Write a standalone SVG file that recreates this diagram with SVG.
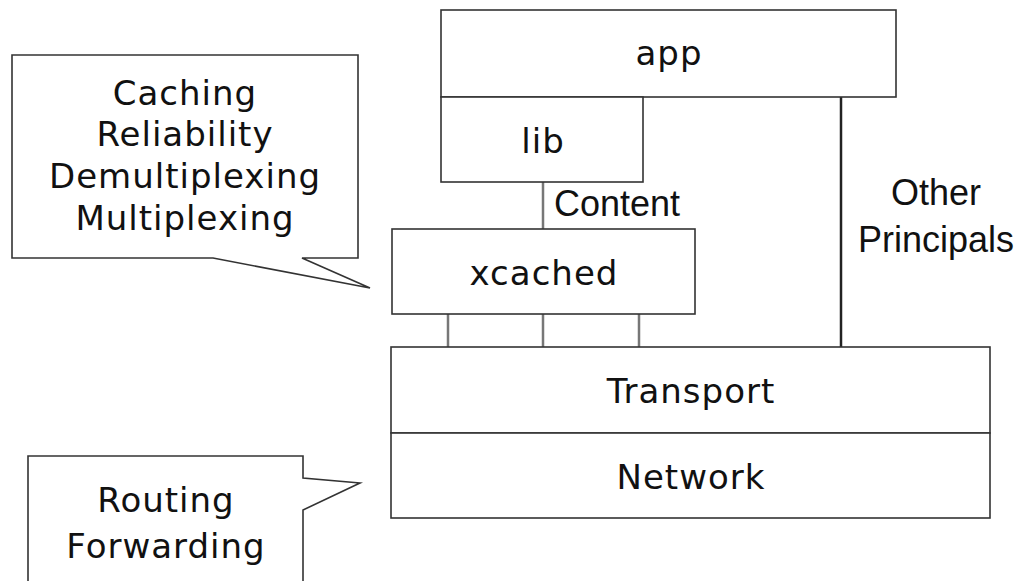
<svg xmlns="http://www.w3.org/2000/svg" width="1021" height="581" viewBox="0 0 1021 581">
<style>
.box{fill:#fff;stroke:#333;stroke-width:1.6}
.lbl{font-family:"DejaVu Sans",sans-serif;font-size:34px;letter-spacing:1px;fill:#111;text-anchor:middle}
.ann{font-family:"Liberation Sans",Arial,sans-serif;font-size:36px;fill:#111}
.gl{stroke:#777;stroke-width:2.5;fill:none}
.bl{stroke:#222;stroke-width:2.5;fill:none}
</style>
<rect width="1021" height="581" fill="#fff"/>
<g id="connectors">
<line class="gl" x1="543" y1="182" x2="543" y2="229"/>
<line class="gl" x1="448" y1="314" x2="448" y2="347"/>
<line class="gl" x1="543" y1="314" x2="543" y2="347"/>
<line class="gl" x1="639" y1="314" x2="639" y2="347"/>
<line class="bl" x1="841" y1="97" x2="841" y2="347"/>
<text class="ann" x="554" y="216">Content</text>
<text class="ann" x="936" y="205" text-anchor="middle">Other</text>
<text class="ann" x="936" y="252" text-anchor="middle">Principals</text>
</g>
<g id="app">
<rect class="box" x="441" y="10" width="455" height="87"/>
<text class="lbl" x="669" y="65">app</text>
</g>
<g id="lib">
<rect class="box" x="441" y="97" width="202" height="85"/>
<text class="lbl" x="543" y="153">lib</text>
</g>
<g id="xcached">
<rect class="box" x="392" y="229" width="303" height="85"/>
<text class="lbl" x="544" y="285">xcached</text>
</g>
<g id="transport">
<rect class="box" x="391" y="347" width="599" height="86"/>
<text class="lbl" x="691" y="403">Transport</text>
</g>
<g id="network">
<rect class="box" x="391" y="433" width="599" height="85"/>
<text class="lbl" x="691" y="489">Network</text>
</g>
<g id="callout-xcached">
<path class="box" d="M12,55 H358 V258 H302 L370,288 L213,258 H12 Z"/>
<text class="lbl" x="185" y="105">Caching</text>
<text class="lbl" x="185" y="146">Reliability</text>
<text class="lbl" x="185" y="188">Demultiplexing</text>
<text class="lbl" x="185" y="230">Multiplexing</text>
</g>
<g id="callout-network">
<path class="box" d="M28,456 H303 V478 L360,483 L303,510 V600 H28 Z"/>
<text class="lbl" x="166" y="512">Routing</text>
<text class="lbl" x="166" y="558">Forwarding</text>
</g>
</svg>
